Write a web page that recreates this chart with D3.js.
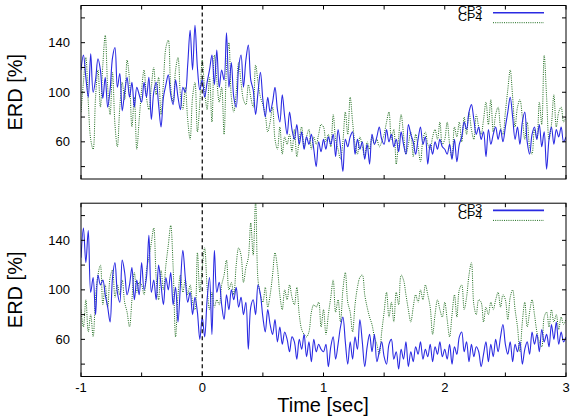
<!DOCTYPE html>
<html lang="en">
<head>
  <meta charset="UTF-8">
  <title>ERD CP3 / CP4</title>
  <script src="https://d3js.org/d3.v7.min.js"></script>
  <style>
    body { margin: 0; background: #fff; }
    svg { font-family: "Liberation Sans", Arial, sans-serif; }
  </style>
</head>
<body>
  <div id="chart"></div>

  <script>
    // sample grid: -1 .. 3 sec, one value every 0.02 sec
    const tStart = -1, tStep = 0.02;
    const xTicks = [-1, 0, 1, 2, 3];
    const yTicks = [60, 100, 140];
    const seriesNames = ["CP3", "CP4"];

    // upper panel
    const top_cp3 = [
      118,130,112,96,131,100,110,127,118,95,112,88,102,128,136,104,115,85,100,112,96,108,88,104,98,
      92,108,96,112,78,100,108,90,72,96,106,114,98,90,110,96,86,104,100,122,150,118,154,120,102,
      110,96,108,118,130,106,134,104,118,110,148,104,124,96,88,120,130,104,126,138,110,102,82,100,116,
      94,80,96,84,92,104,86,76,98,80,66,84,70,62,74,58,68,54,64,58,66,54,40,60,52,
      62,54,64,58,66,48,70,56,36,62,56,64,68,50,62,54,60,46,58,42,66,58,64,72,62,
      58,70,60,66,56,62,52,68,58,50,74,66,60,50,62,72,58,64,42,58,50,60,54,62,56,
      54,50,58,46,62,44,58,64,76,70,84,90,78,66,72,62,68,48,70,58,66,72,62,70,60,
      72,84,96,80,62,72,58,76,84,60,50,66,72,62,74,56,68,38,62,72,58,70,64,72,60,
      64
    ];
    const top_cp4 = [
      84,108,128,92,62,54,96,118,88,122,146,104,82,116,74,56,88,108,94,126,110,72,96,54,78,
      102,118,96,86,104,120,98,112,82,108,136,142,104,92,118,128,98,86,104,78,62,96,108,68,92,
      126,102,86,112,76,130,110,92,104,66,120,140,96,84,100,124,108,94,90,106,96,88,122,108,96,
      90,82,68,76,88,62,54,72,50,64,58,66,52,70,48,62,72,56,64,70,54,64,58,66,74,
      72,60,66,56,82,62,54,46,60,84,66,96,76,58,50,64,56,48,60,54,64,58,62,56,60,
      66,76,84,62,70,42,64,82,66,50,58,68,48,66,56,44,62,68,58,54,64,70,62,76,58,
      62,76,58,46,72,64,76,60,80,66,84,70,62,82,72,66,78,92,74,94,68,82,88,72,66,
      84,102,118,96,72,88,94,80,62,76,56,50,70,62,92,74,130,96,62,74,98,72,84,88,76,
      80
    ];

    // lower panel
    const bottom_cp3 = [
      126,150,122,148,98,110,80,112,104,108,96,86,74,110,122,98,90,124,114,96,104,118,92,108,96,
      122,100,110,144,98,108,92,120,104,88,110,100,114,88,102,74,104,132,110,90,98,80,94,82,60,
      78,62,92,110,64,132,98,106,88,76,96,84,100,92,102,86,94,80,90,52,86,92,80,104,96,
      78,66,84,72,64,76,58,70,56,66,60,50,62,58,44,60,52,64,46,58,42,60,50,56,52,
      50,56,38,54,62,44,56,70,78,58,40,58,44,62,52,76,58,38,54,64,50,64,42,50,58,
      46,40,56,60,44,50,36,52,44,58,38,50,42,54,48,58,44,52,46,56,42,54,48,58,46,
      52,44,56,40,54,48,62,66,50,58,42,56,46,54,50,38,48,58,42,56,46,60,50,62,72,
      56,48,58,42,56,50,58,40,52,58,48,66,56,64,50,68,58,64,54,72,60,74,56,66,58,
      62
    ];
    const bottom_cp4 = [
      84,70,92,66,80,62,94,112,120,88,104,86,110,116,94,104,96,108,90,82,70,92,114,98,106,
      104,96,116,126,138,150,110,92,116,100,120,136,152,118,62,96,112,98,108,96,104,90,84,130,98,
      118,134,102,84,98,86,92,88,104,112,124,100,106,96,120,134,128,106,118,126,154,128,172,108,96,
      90,102,86,96,112,130,118,96,84,100,92,104,94,88,102,80,68,64,62,66,82,88,86,90,70,
      84,64,80,94,108,82,92,74,100,114,90,82,66,88,102,110,112,96,86,78,72,62,56,48,66,
      82,98,78,90,74,98,88,112,108,96,84,74,86,96,90,100,92,104,96,86,64,80,92,84,78,
      90,76,62,80,96,78,100,104,84,94,112,122,88,80,92,90,74,86,80,90,84,92,98,86,96,
      92,76,94,100,84,70,50,74,90,70,82,92,80,66,58,54,78,82,70,84,74,80,68,78,72,
      76
    ];

    const panels = [
      { cp3: top_cp3, cp4: top_cp4, y0: 5.5, y1: 179, xLabels: false },
      { cp3: bottom_cp3, cp4: bottom_cp4, y0: 203.2, y1: 376.5, xLabels: true }
    ];

    const width = 572, height = 417;
    const left = 81, right = 566;

    const svg = d3.select("#chart").append("svg")
      .attr("width", width)
      .attr("height", height);

    const x = d3.scaleLinear().domain([-1, 3]).range([left, right]);

    const blue = "#2a2ae2";
    const green = "#1c6b1c";

    panels.forEach((p, k) => {
      const y = d3.scaleLinear().domain([30, 170]).range([p.y1, p.y0]);
      const g = svg.append("g");

      g.append("clipPath").attr("id", "clip" + k)
        .append("rect")
        .attr("x", left).attr("y", p.y0)
        .attr("width", right - left).attr("height", p.y1 - p.y0);

      const line = d3.line()
        .x((d, i) => x(tStart + i * tStep))
        .y(d => y(d))
        .curve(d3.curveCatmullRom);

      const plot = g.append("g").attr("clip-path", "url(#clip" + k + ")");

      // CP4 drawn under CP3
      plot.append("path")
        .attr("fill", "none")
        .attr("stroke", green)
        .attr("stroke-width", 1)
        .attr("stroke-dasharray", "1,1.2")
        .attr("d", line(p.cp4));

      plot.append("path")
        .attr("fill", "none")
        .attr("stroke", blue)
        .attr("stroke-width", 1.1)
        .attr("d", line(p.cp3));

      // stimulus onset
      g.append("line")
        .attr("x1", x(0)).attr("x2", x(0))
        .attr("y1", p.y0).attr("y2", p.y1)
        .attr("stroke", "#000")
        .attr("stroke-width", 1.2)
        .attr("stroke-dasharray", "4,3");

      // ticks, mirrored on all sides, pointing inwards
      const yAll = d3.range(40, 161, 20);
      const xAll = d3.range(-1, 3.01, 0.5);
      const tl = 4;
      yAll.forEach(v => {
        g.append("line").attr("x1", left).attr("x2", left + tl)
          .attr("y1", y(v)).attr("y2", y(v)).attr("stroke", "#000");
        g.append("line").attr("x1", right).attr("x2", right - tl)
          .attr("y1", y(v)).attr("y2", y(v)).attr("stroke", "#000");
      });
      xAll.forEach(v => {
        g.append("line").attr("x1", x(v)).attr("x2", x(v))
          .attr("y1", p.y1).attr("y2", p.y1 - tl).attr("stroke", "#000");
        g.append("line").attr("x1", x(v)).attr("x2", x(v))
          .attr("y1", p.y0).attr("y2", p.y0 + tl).attr("stroke", "#000");
      });

      g.selectAll(".ylab").data(yTicks).enter().append("text")
        .attr("x", 70)
        .attr("y", d => y(d))
        .attr("dy", "0.35em")
        .attr("text-anchor", "end")
        .attr("font-size", 13)
        .text(d => d);

      if (p.xLabels) {
        g.selectAll(".xlab").data(xTicks).enter().append("text")
          .attr("x", d => x(d))
          .attr("y", 392)
          .attr("text-anchor", "middle")
          .attr("font-size", 13)
          .text(d => d);
      }

      // frame
      g.append("rect")
        .attr("x", left).attr("y", p.y0)
        .attr("width", right - left).attr("height", p.y1 - p.y0)
        .attr("fill", "none")
        .attr("stroke", "#000")
        .attr("stroke-width", 1);

      g.append("text")
        .attr("transform", `translate(22,${(p.y0 + p.y1) / 2}) rotate(-90)`)
        .attr("text-anchor", "middle")
        .attr("font-size", 20)
        .text("ERD [%]");

      // key: both names in one text block, rows packed tightly as in the original
      const keyText = g.append("text")
        .attr("font-size", 10)
        .attr("transform", `translate(458,${p.y0}) scale(1.25,1)`);
      keyText.append("tspan").attr("x", 0).attr("y", 8.8).text(seriesNames[0]);
      keyText.append("tspan").attr("x", 0).attr("y", 15.8).text(seriesNames[1]);

      const keyLines = [
        { ly: p.y0 + 7.2, color: blue, dash: null, w: 1.6 },
        { ly: p.y0 + 17.2, color: green, dash: "1,1.2", w: 1 }
      ];
      keyLines.forEach(kk => {
        g.append("line")
          .attr("x1", 493).attr("x2", 544)
          .attr("y1", kk.ly).attr("y2", kk.ly)
          .attr("stroke", kk.color)
          .attr("stroke-width", kk.w)
          .attr("stroke-dasharray", kk.dash);
      });
    });

    svg.append("text")
      .attr("x", 323)
      .attr("y", 412)
      .attr("text-anchor", "middle")
      .attr("font-size", 20)
      .text("Time [sec]");
  </script>
</body>
</html>
